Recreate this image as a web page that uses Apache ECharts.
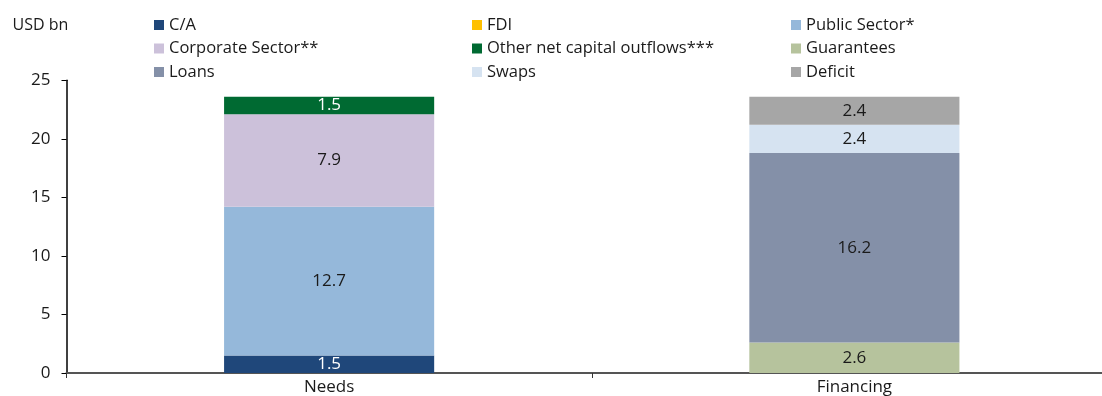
<!DOCTYPE html>
<html>
<head>
<meta charset="utf-8">
<script src="https://cdn.jsdelivr.net/npm/echarts@6/dist/echarts.min.js"></script>
<style>
  html, body { margin: 0; padding: 0; background: #fff; overflow: hidden; }
  /* the category axis runs a little past the right edge of the view */
  #chart { width: 1117px; height: 396px; }
</style>
</head>
<body>
<div id="chart"></div>
<script>
// Balance of payments needs vs. financing, USD bn
const categories = ['Needs', 'Financing'];

const caValues         = [1.5, null];
const fdiValues        = [0, null];
const publicValues     = [12.7, null];
const corporateValues  = [7.9, null];
const otherValues      = [1.5, null];
const guaranteeValues  = [null, 2.6];
const loanValues       = [null, 16.2];
const swapValues       = [null, 2.4];
const deficitValues    = [null, 2.4];

const yTicks = { min: 0, max: 25, interval: 5 };

const FONT = "'Open Sans', 'Liberation Sans', sans-serif";
const TEXT = '#1a1a1a';

function bar(name, data, color, labelColor) {
  return {
    name: name,
    type: 'bar',
    stack: 'total',
    barWidth: '40%',
    data: data,
    itemStyle: { color: color },
    label: {
      show: true,
      position: 'inside',
      color: labelColor,
      fontFamily: FONT,
      fontSize: 17,
      formatter: p => (p.value ? p.value.toFixed(1) : '')
    }
  };
}

const series = [
  bar('C/A', caValues, '#1F477A', '#ffffff'),
  bar('FDI', fdiValues, '#FFC000', TEXT),
  bar('Public Sector*', publicValues, '#95B8DA', TEXT),
  bar('Corporate Sector**', corporateValues, '#CCC1DA', TEXT),
  bar('Other net capital outflows***', otherValues, '#006A32', '#ffffff'),
  bar('Guarantees', guaranteeValues, '#B6C39D', TEXT),
  bar('Loans', loanValues, '#8490A8', TEXT),
  bar('Swaps', swapValues, '#D6E3F1', TEXT),
  bar('Deficit', deficitValues, '#A6A6A6', TEXT)
];

function legendColumn(left, names) {
  return {
    orient: 'vertical',
    left: left,
    top: 16.5,
    padding: 0,
    itemWidth: 10,
    itemHeight: 10,
    itemGap: 6.5,
    icon: 'rect',
    selectedMode: false,
    textStyle: { fontFamily: FONT, fontSize: 16.5, color: TEXT, lineHeight: 17 },
    data: names
  };
}

const chart = echarts.init(document.getElementById('chart'), null, { renderer: 'canvas' });
chart.setOption({
  animation: false,
  backgroundColor: '#ffffff',
  textStyle: { fontFamily: FONT },
  graphic: [{
    type: 'text',
    left: 12.5,
    top: 17,
    style: { text: 'USD bn', fontFamily: FONT, fontSize: 16, fill: TEXT }
  }],
  legend: [
    legendColumn(154, ['C/A', 'Corporate Sector**', 'Loans']),
    legendColumn(472, ['FDI', 'Other net capital outflows***', 'Swaps']),
    legendColumn(791, ['Public Sector*', 'Guarantees', 'Deficit'])
  ],
  grid: { left: 66.5, right: 0, top: 80.3, bottom: 22.7 },
  xAxis: {
    type: 'category',
    data: categories,
    axisLine: { lineStyle: { color: '#555555', width: 2 } },
    axisTick: { show: true, length: 5, lineStyle: { color: '#333333', width: 1 } },
    axisLabel: { color: TEXT, fontFamily: FONT, fontSize: 17, margin: 6 }
  },
  yAxis: {
    type: 'value',
    min: yTicks.min,
    max: yTicks.max,
    interval: yTicks.interval,
    splitLine: { show: false },
    axisLine: { show: true, lineStyle: { color: '#000000', width: 1.5 } },
    axisTick: { show: true, length: 5, lineStyle: { color: '#000000' } },
    axisLabel: { color: TEXT, fontFamily: FONT, fontSize: 17, margin: 16 }
  },
  series: series
});
</script>
</body>
</html>
